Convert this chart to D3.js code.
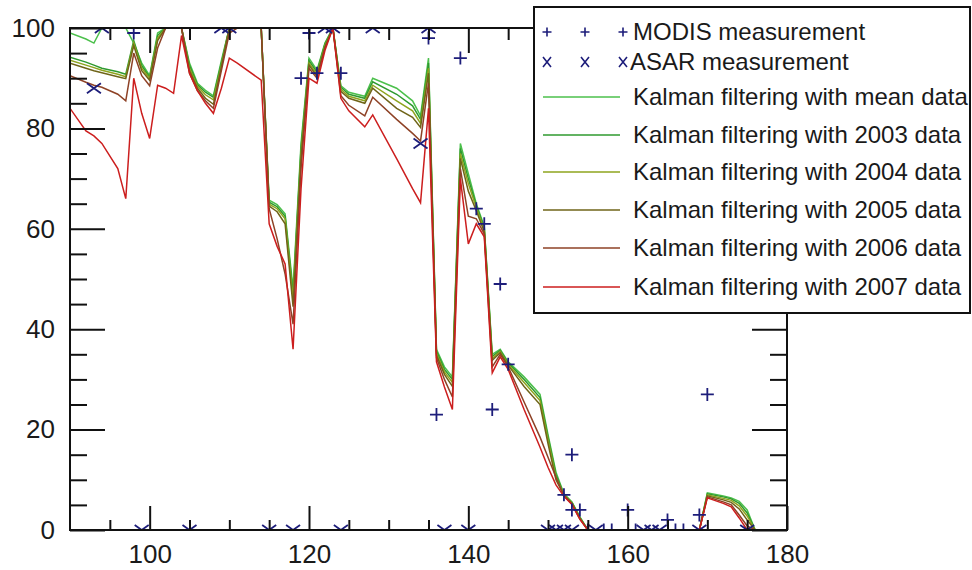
<!DOCTYPE html>
<html><head><meta charset="utf-8">
<script src="https://cdn.jsdelivr.net/npm/d3@7"></script>
<style>
body{margin:0;background:#fff}
svg{display:block}
text{font-family:"Liberation Sans",Arial,Helvetica,sans-serif;fill:#1a1a1a}
</style>
</head><body>
<svg id="chart" width="972" height="570"></svg>
<script>
// ---------------- DATA ----------------
const days = [90,92,93,94,96,97,98,99,100,101,102,103,104,105,106,107,108,109,110,111,114,115,116,117,118,119,120,121,122,123,124,125,127,128,131,133,134,135,136,137,138,139,140,141,142,143,144,145,147,149,150,151,152,153,154,155,169,170,172,173,174,175,176];

const kalmanMean = [99,97.8,97,100,100,100,97,93,90.5,99,100,100,100,93,89,87.6,86.5,93.5,100,100,100,65.7,64.8,63,48,77,94,91.6,97,100,88.5,87.2,86.4,90,88,85.5,82.5,94,36,32.5,30.5,77,71,65,60.5,35,36,33.5,30.5,27,19,11.5,7.2,5.6,2.6,0,0,7.4,6.8,6.4,5.7,4.0,0];
const kalman2003 = [94.2,93.2,92.6,92,91.3,90.8,97.5,92.5,90.2,98.5,100,100,100,92.5,88.7,87.2,86.2,93,100,100,100,65.3,64.4,62.5,47,76,93.5,91.2,96.8,100,88.2,86.8,86,89.3,86.8,84.5,81.8,93,35.6,32,30,76,70,64.6,60.2,34.6,35.8,33.3,30,26.4,18.5,11,7.1,5.5,2.5,0,0,7.2,6.6,6.2,5.3,3.4,0];
const kalman2004 = [93.6,92.6,92.1,91.6,90.8,90.3,97,92,90,98,100,100,100,92,88.4,86.7,85.7,92.6,100,100,100,64.9,64,62,46,75,93,90.8,96.5,100,87.8,86.4,85.5,88.6,85.5,83.5,81,92,35.2,31.5,29.4,75,69,64.2,59.8,34.2,35.6,33,29.4,25.8,18,10.5,7,5.4,2.4,0,0,7.0,6.3,5.9,4.8,2.8,0];
const kalman2005 = [93.0,92.0,91.5,91.1,90.3,89.9,96.5,91.5,89.6,97.5,100,100,100,91.5,88,86,84.8,92.2,100,100,100,64.5,63.4,61,44.5,74,92.6,90.4,96.2,100,87.4,86,85,88,84,82.2,80.2,91,34.8,31,28.6,74,67.5,63.6,59.4,33.8,35.3,32.8,28.6,25,17.2,10,6.9,5.3,2.3,0,0,6.8,6.0,5.5,4.2,2.0,0];
const kalman2006 = [90.5,89.2,88.6,88.2,86.8,85.5,95,90.5,88.5,96,100,100,100,91,87.5,85.5,84,91.5,99,100,100,64,58,51,41,72,92,90,96,100,86.5,84.6,82.5,86.2,81.8,79,77.5,89,34.3,30,26.5,72,62.5,62,59,32.5,35,32.5,25.5,18.5,14.5,10.5,6.8,5.2,2.2,0,0,6.6,5.6,5.0,3.0,0.8,0];
const kalman2007 = [84,79.5,78.5,77,72,66,90,83,78,88.6,88,87,98.5,91,87.5,85,83,88,94,93,89.6,61,56.5,53,36,68,90,89,95.5,100,86,83.5,80.3,82.7,74,68,65.2,84,33.5,28.5,24,70,57,61,58.4,31.3,34.5,32,24,16.5,12.5,9,6.7,5.1,2.1,0,0,6.4,5.3,4.6,2.4,0,0];

const seriesNames = ["Kalman filtering with mean data","Kalman filtering with 2003 data","Kalman filtering with 2004 data","Kalman filtering with 2005 data","Kalman filtering with 2006 data","Kalman filtering with 2007 data"];
const seriesValues = [kalmanMean,kalman2003,kalman2004,kalman2005,kalman2006,kalman2007];
const seriesColors = ["#4cc04c","#2f9a2f","#8ea41e","#6f6418","#8e4226","#cc1e1e"];

const modisDays   = [90,98,119,120,121,124,135,136,139,141,142,143,144,145,152,153,153,154,155,157,158,160,161,165,166,167,169,170];
const modisValues = [100,99,90,99,91,91,98,23,94,64,61,24,49,33,7,15,4,4,0,0,0,4,0,2,0,0,3,27];
const asarDays    = [93,94,99,105,109,110,115,118,122,123,124,128,134,135,137,140,150,151,152,153,156,162,163,164,169,175];
const asarValues  = [88,100,0,0,100,100,0,0,100,100,0,100,77,100,0,0,0,0,0,0,0,0,0,0,0,0];

const markerNames = ["MODIS measurement","ASAR measurement"];
const xMajorTicks = [100,120,140,160,180];
const xMinorTicks = [95,105,110,115,125,130,135,145,150,155,165,170,175];
const yMajorTicks = [0,20,40,60,80,100];
const yMinorTicks = [5,10,15,25,30,35,45,50,55,65,70,75,85,90,95];

// ---------------- CHART ----------------
const svg = d3.select("#chart");
const W = 972, H = 570;
const L = 70, R = 787, T = 28, B = 530;
svg.append("rect").attr("width",W).attr("height",H).attr("fill","#fff");

const x = d3.scaleLinear().domain([90,180]).range([L,R]);
const y = d3.scaleLinear().domain([0,100]).range([B,T]);

svg.append("defs").append("clipPath").attr("id","plotclip")
  .append("rect").attr("x",L).attr("y",T).attr("width",R-L).attr("height",B-T);

// lines
const line = d3.line().x((d,i)=>x(days[i])).y(d=>y(d));
const lineG = svg.append("g").attr("clip-path","url(#plotclip)");
seriesValues.forEach((vals,k)=>{
  lineG.append("path").datum(vals).attr("d",line)
    .attr("fill","none").attr("stroke",seriesColors[k])
    .attr("stroke-width",1.5).attr("stroke-linejoin","miter");
});

// markers
const markColor = "#1d1d7a";
function plusPath(cx,cy,s){return `M${cx-s},${cy}H${cx+s}M${cx},${cy-s}V${cy+s}`;}
function crossPath(cx,cy,sx,sy){return `M${cx-sx},${cy-sy}L${cx+sx},${cy+sy}M${cx-sx},${cy+sy}L${cx+sx},${cy-sy}`;}
const markG = svg.append("g").attr("clip-path","url(#plotclip)");
markG.selectAll("path.modis").data(modisDays).join("path").attr("class","modis")
  .attr("d",(d,i)=>plusPath(x(d),y(modisValues[i]),6.5))
  .attr("stroke",markColor).attr("stroke-width",1.8).attr("fill","none");
markG.selectAll("path.asar").data(asarDays).join("path").attr("class","asar")
  .attr("d",(d,i)=>crossPath(x(d),y(asarValues[i]),7,5))
  .attr("stroke",markColor).attr("stroke-width",1.8).attr("fill","none");

// axes (inward ticks)
function styleAxis(g){
  g.select(".domain").remove();
  g.selectAll(".tick line").attr("stroke","#111").attr("stroke-width",2);
  g.selectAll(".tick text").attr("font-size",26).attr("fill","#1a1a1a")
    .attr("font-family",'"Liberation Sans",Arial,sans-serif');
}
svg.append("g").attr("transform",`translate(${L},0)`)
  .call(d3.axisLeft(y).tickValues(yMajorTicks).tickSize(-35).tickPadding(15).tickFormat(d3.format("d"))).call(styleAxis);
svg.append("g").attr("transform",`translate(${L},0)`)
  .call(d3.axisLeft(y).tickValues(yMinorTicks).tickSize(-17).tickFormat("")).call(styleAxis);
svg.append("g").attr("transform",`translate(${R},0)`)
  .call(d3.axisRight(y).tickValues(yMajorTicks).tickSize(-35).tickFormat("")).call(styleAxis);
svg.append("g").attr("transform",`translate(${R},0)`)
  .call(d3.axisRight(y).tickValues(yMinorTicks).tickSize(-17).tickFormat("")).call(styleAxis);
svg.append("g").attr("transform",`translate(0,${B})`)
  .call(d3.axisBottom(x).tickValues(xMajorTicks).tickSize(-24).tickPadding(15).tickFormat(d3.format("d"))).call(styleAxis);
svg.append("g").attr("transform",`translate(0,${B})`)
  .call(d3.axisBottom(x).tickValues(xMinorTicks).tickSize(-10).tickFormat("")).call(styleAxis);
svg.append("g").attr("transform",`translate(0,${T})`)
  .call(d3.axisTop(x).tickValues(xMajorTicks).tickSize(-25).tickFormat("")).call(styleAxis);
svg.append("g").attr("transform",`translate(0,${T})`)
  .call(d3.axisTop(x).tickValues(xMinorTicks).tickSize(-12).tickFormat("")).call(styleAxis);

// frame
svg.append("rect").attr("x",L).attr("y",T).attr("width",R-L).attr("height",B-T)
  .attr("fill","none").attr("stroke","#111").attr("stroke-width",2);

// legend
const leg = svg.append("g");
leg.append("rect").attr("x",534).attr("y",7).attr("width",436).attr("height",306)
  .attr("fill","#fff").attr("stroke","#111").attr("stroke-width",2);
const markerRows = [32,62];
const lineRows = [97,135,172,210,248,287];
const sampleX = [547,585,623];
sampleX.forEach(sx=>{
  leg.append("path").attr("d",plusPath(sx,markerRows[0],4.5)).attr("stroke",markColor).attr("stroke-width",1.6).attr("fill","none");
  leg.append("path").attr("d",crossPath(sx,markerRows[1],4,5)).attr("stroke",markColor).attr("stroke-width",1.6).attr("fill","none");
});
markerNames.forEach((n,i)=>{
  leg.append("text").attr("x",i===0?633:630).attr("y",markerRows[i]).attr("dy","0.35em")
    .attr("font-size",24).text(n);
});
seriesNames.forEach((n,i)=>{
  leg.append("line").attr("x1",543).attr("x2",620).attr("y1",lineRows[i]).attr("y2",lineRows[i])
    .attr("stroke",seriesColors[i]).attr("stroke-width",1.5);
  leg.append("text").attr("x",633).attr("y",lineRows[i]).attr("dy","0.35em")
    .attr("font-size",24).text(n);
});
</script>
</body></html>
